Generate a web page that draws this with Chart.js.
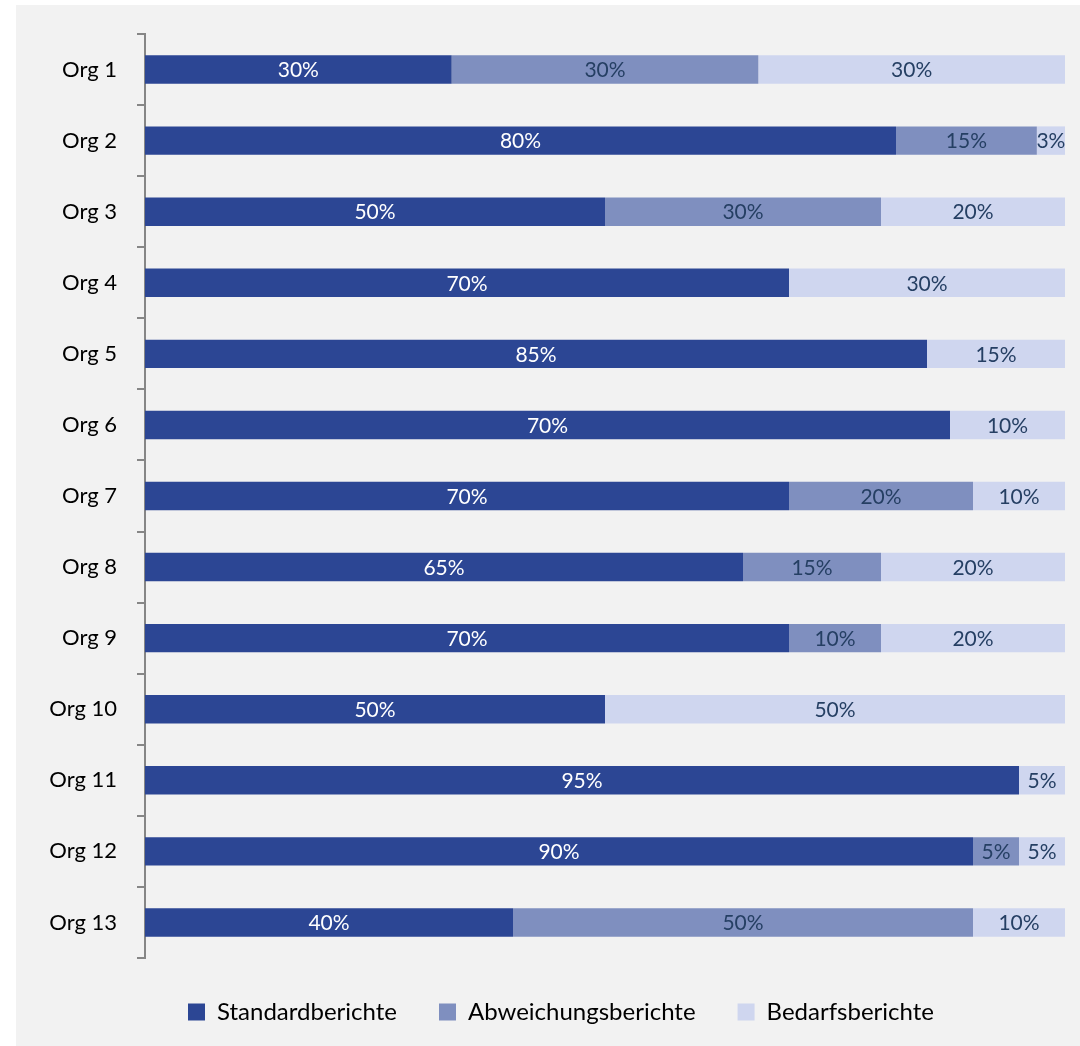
<!DOCTYPE html>
<html>
<head>
<meta charset="utf-8">
<script src="https://cdn.jsdelivr.net/npm/chart.js@4/dist/chart.umd.min.js"></script>
<style>
  html, body { margin: 0; padding: 0; background: #ffffff; }
  #wrap { position: absolute; left: 16px; top: 5px; width: 1064px; height: 1041px; background: #f2f2f2; }
</style>
</head>
<body>
<div id="wrap"><canvas id="myChart" width="1064" height="1041"></canvas></div>
<script>
// Categories and raw values (bars are drawn as 100% stacked, labels show raw values)
var orgs = ['Org 1', 'Org 2', 'Org 3', 'Org 4', 'Org 5', 'Org 6', 'Org 7',
  'Org 8', 'Org 9', 'Org 10', 'Org 11', 'Org 12', 'Org 13'];
var standard = [30, 80, 50, 70, 85, 70, 70, 65, 70, 50, 95, 90, 40];
var abweichung = [30, 15, 30, null, null, null, 20, 15, 10, null, null, 5, 50];
var bedarf = [30, 3, 20, 30, 15, 10, 10, 20, 20, 50, 5, 5, 10];
var seriesNames = ['Standardberichte', 'Abweichungsberichte', 'Bedarfsberichte'];

var colors = ['#2c4694', '#7f8fbf', '#cfd6ef'];
var labelColors = ['#ffffff', '#253f63', '#253f63'];
var raw = [standard, abweichung, bedarf];

// Share of each value in its row total
function toPercent(arr) {
  var out = [];
  for (var i = 0; i < arr.length; i++) {
    var total = (standard[i] || 0) + (abweichung[i] || 0) + (bedarf[i] || 0);
    out.push(arr[i] === null ? null : arr[i] / total * 100);
  }
  return out;
}

var FONT = 'Lato, "Open Sans", sans-serif';

// Draw raw value in the middle of each segment
var valueLabels = {
  id: 'valueLabels',
  afterDatasetsDraw: function(chart) {
    var ctx = chart.ctx;
    ctx.save();
    ctx.font = '21px ' + FONT;
    ctx.textAlign = 'center';
    ctx.textBaseline = 'middle';
    chart.data.datasets.forEach(function(ds, di) {
      var meta = chart.getDatasetMeta(di);
      meta.data.forEach(function(bar, i) {
        var v = raw[di][i];
        if (v === null) return;
        ctx.fillStyle = labelColors[di];
        ctx.fillText(v + '%', (bar.x + bar.base) / 2, bar.y + 1);
      });
    });
    ctx.restore();
  }
};

var datasets = [];
for (var s = 0; s < raw.length; s++) {
  datasets.push({
    label: seriesNames[s],
    data: toPercent(raw[s]),
    backgroundColor: colors[s],
    borderWidth: 0,
    barPercentage: 0.4,
    categoryPercentage: 1.0
  });
}

var ctx = document.getElementById('myChart').getContext('2d');
var myChart = new Chart(ctx, {
  type: 'bar',
  data: { labels: orgs, datasets: datasets },
  plugins: [valueLabels],
  options: {
    indexAxis: 'y',
    responsive: false,
    animation: false,
    layout: { padding: { left: 26, right: 0, top: 29, bottom: 12 } },
    scales: {
      x: { stacked: true, min: 0, max: 100, display: false },
      y: {
        stacked: true,
        afterFit: function(scale) {
          scale.width = 103;
          scale.paddingTop = 0;
          scale.paddingBottom = 0;
        },
        border: { display: true, color: '#868686', width: 2 },
        grid: {
          offset: true,
          drawOnChartArea: false,
          drawTicks: true,
          tickLength: 8,
          color: '#868686',
          lineWidth: 2
        },
        ticks: { color: '#000000', padding: 20, font: { family: FONT, size: 22 } }
      },
      // empty right-side spacer
      yRight: {
        position: 'right',
        grid: { display: false },
        border: { display: false },
        ticks: { display: false },
        afterFit: function(scale) {
          scale.width = 15;
          scale.paddingTop = 0;
          scale.paddingBottom = 0;
        }
      }
    },
    plugins: {
      tooltip: { enabled: false },
      legend: {
        position: 'bottom',
        labels: {
          color: '#000000',
          boxWidth: 17,
          boxHeight: 17,
          padding: 42,
          font: { family: FONT, size: 24 }
        }
      }
    }
  }
});
</script>
</body>
</html>
